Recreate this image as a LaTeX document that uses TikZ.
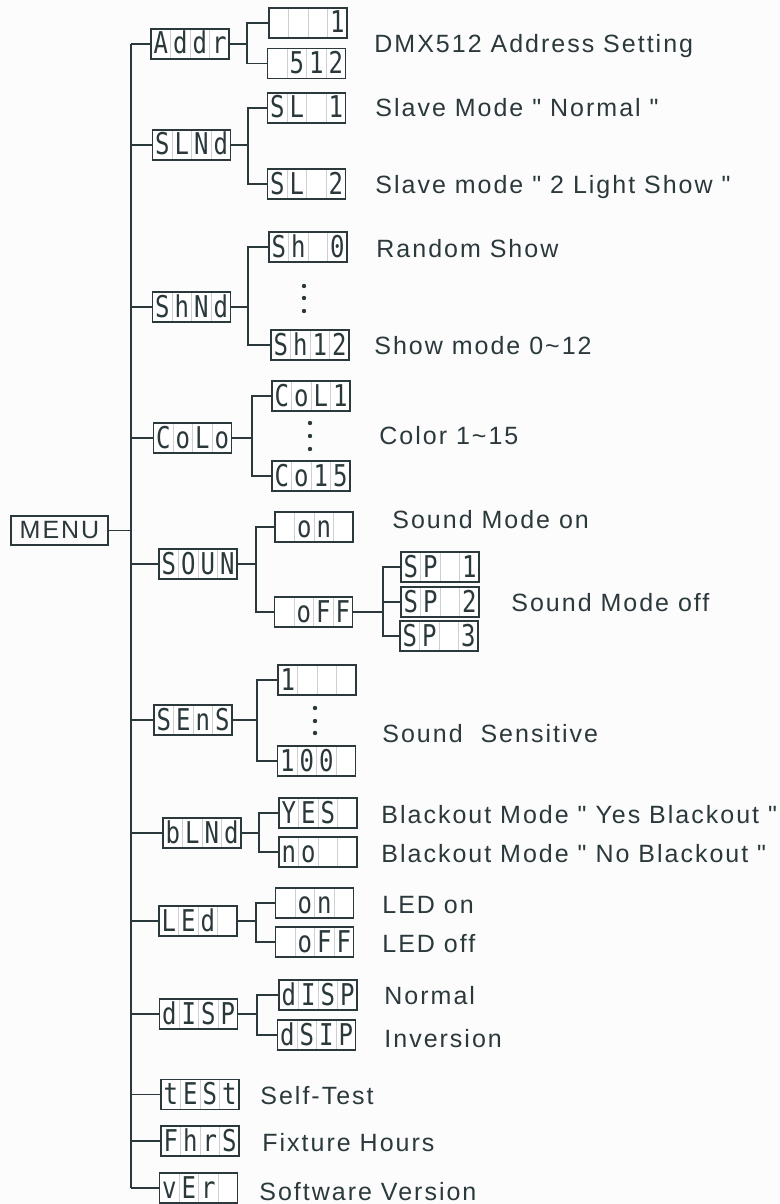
\documentclass[tikz,border=0pt]{standalone}
\usepackage{fontspec}
\setmainfont{Liberation Sans}[LetterSpace=8]
\newfontfamily\segfont[FakeStretch=0.8]{DejaVu Sans Mono}
\usepackage{tikz}
\definecolor{ink}{HTML}{2B393C}
\definecolor{cellgray}{HTML}{CDCFD0}
\definecolor{bg}{HTML}{FCFCFC}
\newcommand{\segs}[4]{\makebox[9.75pt]{#1}\makebox[9.75pt]{#2}\makebox[9.75pt]{#3}\makebox[9.75pt]{#4}}
\newcommand{\qq}{\textquotedbl}
\tikzset{
	wire/.style={draw=ink, line width=.75pt},
	lcdbox/.style={draw=ink, line width=.75pt, fill=white, inner sep=0pt, minimum width=39pt, minimum height=15pt,
		text height=12.5pt, text depth=2.5pt, text=ink, font=\fontsize{15}{15}\segfont,
		path picture={\foreach \k in {1,2,3}
			\draw[cellgray, line width=.5pt] ([xshift=\k*9.75pt]path picture bounding box.north west) -- ([xshift=\k*9.75pt]path picture bounding box.south west);}},
	menubox/.style={draw=ink, line width=.75pt, inner sep=0pt, minimum width=48.5pt, minimum height=14.5pt, text=ink},
	note/.style={anchor=base west, inner sep=0pt, text=ink},
}
\begin{document}
\begin{tikzpicture}[x=.5pt, y=-.5pt, font=\fontsize{12.5}{15}\selectfont]
	\fill[bg] (0,0) rectangle (780,1204);
	\useasboundingbox (0,0) rectangle (780,1204);

	\node[menubox] (menu) at (59.5,530.5) {MENU};

	\node[lcdbox] (addr) at (190,44) {\segs{A}{d}{d}{r}};
	\node[lcdbox] (addrA) at (308,23) {\segs{}{}{}{1}};
	\node[lcdbox] (addrB) at (306.5,63.5) {\segs{}{5}{1}{2}};
	\node[lcdbox] (slmd) at (191.5,145) {\segs{S}{L}{N}{d}};
	\node[lcdbox] (slA) at (306.5,108) {\segs{S}{L}{}{1}};
	\node[lcdbox] (slB) at (306.5,184) {\segs{S}{L}{}{2}};
	\node[lcdbox] (shmd) at (191.5,307) {\segs{S}{h}{N}{d}};
	\node[lcdbox] (shA) at (308,247) {\segs{S}{h}{}{0}};
	\node[lcdbox] (shB) at (310,345) {\segs{S}{h}{1}{2}};
	\node[lcdbox] (colo) at (192.5,438) {\segs{C}{o}{L}{o}};
	\node[lcdbox] (coA) at (311,396) {\segs{C}{o}{L}{1}};
	\node[lcdbox] (coB) at (311,476) {\segs{C}{o}{1}{5}};
	\node[lcdbox] (soun) at (198,564) {\segs{S}{O}{U}{N}};
	\node[lcdbox] (sdon) at (314,527) {\segs{}{o}{n}{}};
	\node[lcdbox] (sdoff) at (313.5,612) {\segs{}{o}{F}{F}};
	\node[lcdbox] (spA) at (440,567) {\segs{S}{P}{}{1}};
	\node[lcdbox] (spB) at (440,602) {\segs{S}{P}{}{2}};
	\node[lcdbox] (spC) at (439,636) {\segs{S}{P}{}{3}};
	\node[lcdbox] (sens) at (193,720) {\segs{S}{E}{n}{S}};
	\node[lcdbox] (seA) at (317,680) {\segs{1}{}{}{}};
	\node[lcdbox] (seB) at (316.5,761) {\segs{1}{0}{0}{}};
	\node[lcdbox] (blmd) at (202,833) {\segs{b}{L}{N}{d}};
	\node[lcdbox] (blA) at (318,813) {\segs{Y}{E}{S}{}};
	\node[lcdbox] (blB) at (318,852) {\segs{n}{o}{}{}};
	\node[lcdbox] (led) at (198,921) {\segs{L}{E}{d}{}};
	\node[lcdbox] (ledA) at (314.5,903) {\segs{}{o}{n}{}};
	\node[lcdbox] (ledB) at (314.5,942) {\segs{}{o}{F}{F}};
	\node[lcdbox] (disp) at (198.5,1014) {\segs{d}{I}{S}{P}};
	\node[lcdbox] (diA) at (318,995) {\segs{d}{I}{S}{P}};
	\node[lcdbox] (diB) at (316.5,1035) {\segs{d}{S}{I}{P}};
	\node[lcdbox] (test) at (200,1094.5) {\segs{t}{E}{S}{t}};
	\node[lcdbox] (fhrs) at (200,1141) {\segs{F}{h}{r}{S}};
	\node[lcdbox] (ver) at (198.5,1188) {\segs{v}{E}{r}{}};

	\coordinate (trunk) at (131,0);
	\draw[wire] (trunk |- addr) -- (trunk |- ver);
	\draw[wire] (menu) -- (menu -| trunk);
	\foreach \n in {addr,slmd,shmd,colo,soun,sens,blmd,led,disp,test,fhrs,ver}
		\draw[wire] (trunk |- \n) -- (\n);

	\foreach \p/\bx/\a/\b in {addr/247/addrA/addrB, slmd/248/slA/slB, shmd/248/shA/shB, colo/252/coA/coB,
			soun/256/sdon/sdoff, sens/257/seA/seB, blmd/259/blA/blB, led/256/ledA/ledB, disp/257/diA/diB} {
		\coordinate (\p-bus) at (\bx,0);
		\draw[wire] (\p) -- (\p-bus |- \p);
		\draw[wire] (\a) -| (\p-bus |- \b) -- (\b);
	}
	\coordinate (off-bus) at (383,0);
	\draw[wire] (sdoff) -- (off-bus |- sdoff);
	\draw[wire] (spA) -| (off-bus |- spC) -- (spC);
	\draw[wire] (off-bus |- spB) -- (spB);

	\foreach \x/\y in {304/286,304/298,304/311,310/423,310/436,310/449,315/708,315/721,315/733}
		\fill[ink] (\x,\y) circle (1.1pt);

	\node[note] (dmx) at (374,53) {DMX512 Address Setting};
	\node[note] (slnorm) at (375,117) {Slave Mode \qq{} Normal \qq};
	\node[note] (sltwo) at (375,193) {Slave mode \qq{} 2 Light Show \qq};
	\node[note] (random) at (376,257) {Random Show};
	\node[note] (shmode) at (374,354) {Show mode 0\textasciitilde12};
	\node[note] (color) at (379,444) {Color 1\textasciitilde15};
	\node[note] (sndon) at (392,528) {Sound Mode on};
	\node[note] (sndoff) at (511,611) {Sound Mode off};
	\node[note] (sensitive) at (382,742) {Sound\ \ Sensitive};
	\node[note] (blyes) at (381,823) {Blackout Mode \qq{} Yes Blackout \qq};
	\node[note] (blno) at (381,862) {Blackout Mode \qq{} No Blackout \qq};
	\node[note] (ledon) at (382,913) {LED on};
	\node[note] (ledoff) at (382,952) {LED off};
	\node[note] (normal) at (384,1004) {Normal};
	\node[note] (inversion) at (384,1047) {Inversion};
	\node[note] (selftest) at (260,1104) {Self-Test};
	\node[note] (hours) at (262,1151) {Fixture Hours};
	\node[note] (software) at (259,1200) {Software Version};
\end{tikzpicture}
\end{document}
